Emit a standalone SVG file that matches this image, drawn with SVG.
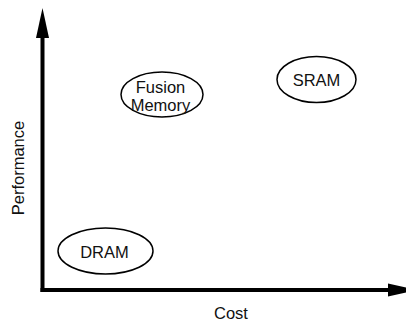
<svg xmlns="http://www.w3.org/2000/svg" width="406" height="322" viewBox="0 0 406 322">
<style>
.node ellipse{fill:#fff;stroke:#000;stroke-width:1.5}
text{font-family:"Liberation Sans",Arial,sans-serif;font-size:16.5px;fill:#111;text-anchor:middle}
.axis{stroke:#000;stroke-width:4;fill:none}
</style>
<defs>
<marker id="ah" markerUnits="userSpaceOnUse" markerWidth="30" markerHeight="13" refX="0" refY="6.5" orient="auto" overflow="visible">
<path d="M0,0 L30,6.5 L0,13 z" fill="#000"/>
</marker>
</defs>
<rect width="406" height="322" fill="#fff"/>
<g id="connectors">
<line class="axis" x1="42.5" y1="292" x2="42.5" y2="38" marker-end="url(#ah)"/>
<line class="axis" x1="40.5" y1="290" x2="388" y2="290" marker-end="url(#ah)"/>
</g>
<g id="fusion" class="node">
<ellipse cx="162" cy="94.5" rx="41" ry="22.5"/>
<text x="160.5" y="92.5">Fusion</text>
<text x="160.5" y="110.5">Memory</text>
</g>
<g id="sram" class="node">
<ellipse cx="316.5" cy="79.5" rx="39.5" ry="23"/>
<text x="316.5" y="85.5">SRAM</text>
</g>
<g id="dram" class="node">
<ellipse cx="105.5" cy="251" rx="47.5" ry="23"/>
<text x="104.5" y="257.5">DRAM</text>
</g>
<g id="labels">
<text transform="translate(24,168) rotate(-90)">Performance</text>
<text x="231" y="319">Cost</text>
</g>
</svg>
